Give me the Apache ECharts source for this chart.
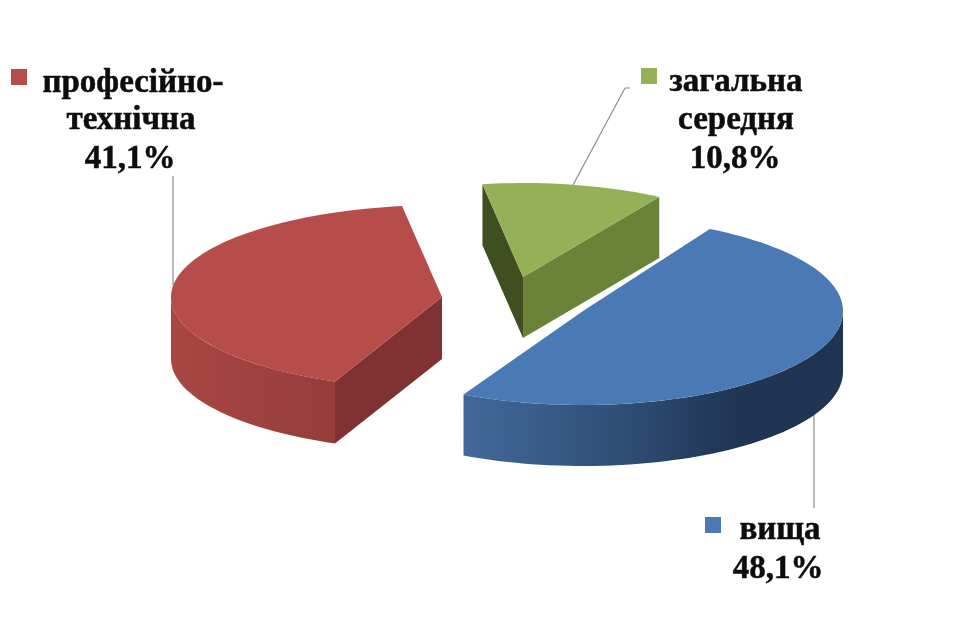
<!DOCTYPE html>
<html><head><meta charset="utf-8">
<style>html,body{margin:0;padding:0;background:#fff}#c{width:980px;height:635px;filter:blur(0.5px)}</style>
<script src="https://cdn.jsdelivr.net/npm/echarts@6/dist/echarts.min.js"></script>
</head><body><div id="c"></div>
<script>
// Data (drawing order: back to front, counter-clockwise from START_ANGLE)
const categories = ['загальна середня', 'професійно-технічна', 'вища'];
const shares = [10.8, 41.1, 48.1];
const shareLabels = ['10,8%', '41,1%', '48,1%'];
const labelLines = [['загальна', 'середня'], ['професійно-', 'технічна'], ['вища']];

// Layout and style
const START_ANGLE = 58;
const sliceCentres = [[523, 277], [442, 297], [583, 311]];
const radiiX = [260, 271, 260];
const radiiY = [94, 92, 94];
const depths = [61, 62, 61];
// small corrections of each slice's edge angles: the original's perspective skews them
const perspectiveNudge = [[0.4, 2.1], [1.6, 1.9], [-2.2, 2.8]];
const topColors = ['#95b158', '#b64d4a', '#4a7ab5'];
const wallStart = ['#6b8239', null, null];
const wallEnd = ['#3f4f20', '#7f3231', null];
const wallStops = [null,
  [[0, '#a84643'], [1, '#953d3b']],
  [[0, '#42699b'], [0.45, '#2e4b72'], [0.72, '#1f3552'], [1, '#1e3450']]];
const labelBlocks = [
  {key: [641, 68], x: [736, 736, 735], y: [82, 120, 159]},
  {key: [11, 69], x: [133, 131, 130], y: [83, 120, 159]},
  {key: [705, 517], x: [780, 778], y: [530, 569]}
];
const leaders = [
  [[573, 185], [625, 88], [630, 88]],
  [[173, 285], [173, 176]],
  [[814, 415], [814, 508]]
];
const total = shares.reduce((a, b) => a + b, 0);

function pt(i, deg, dz) {
  const r = deg * Math.PI / 180, c = sliceCentres[i];
  return [c[0] + radiiX[i] * Math.cos(r), c[1] - radiiY[i] * Math.sin(r) + (dz || 0)];
}
function arc(i, a0, a1, dz) {
  const n = Math.max(2, Math.ceil(Math.abs(a1 - a0) / 2)), out = [];
  for (let k = 0; k <= n; k++) out.push(pt(i, a0 + (a1 - a0) * k / n, dz));
  return out;
}
function wall(i, deg) {
  const c = sliceCentres[i], p = pt(i, deg), d = depths[i];
  return [c, p, [p[0], p[1] + d], [c[0], c[1] + d]];
}

function renderItem(params, api) {
  const i = params.dataIndex;
  let before = 0;
  for (let k = 0; k < i; k++) before += shares[k];
  const base = START_ANGLE + before / total * 360;
  const a0 = base + perspectiveNudge[i][0];
  const a1 = base + api.value(0) / total * 360 + perspectiveNudge[i][1];
  const c = sliceCentres[i], children = [];

  children.push({type: 'polyline', shape: {points: leaders[i]},
    style: {stroke: '#8a8a8a', lineWidth: 1.2, fill: null}});

  if (wallStart[i]) children.push({type: 'polygon', shape: {points: wall(i, a0)}, style: {fill: wallStart[i]}});
  if (wallEnd[i]) children.push({type: 'polygon', shape: {points: wall(i, a1)}, style: {fill: wallEnd[i]}});

  const from = Math.max(a0, 180), to = Math.min(a1, 360);
  if (to > from && wallStops[i]) {
    const upper = arc(i, from, to, 0), lower = arc(i, to, from, depths[i]);
    const xs = upper.map(p => p[0]);
    children.push({type: 'polygon', shape: {points: upper.concat(lower)},
      style: {fill: new echarts.graphic.LinearGradient(Math.min(...xs), 0, Math.max(...xs), 0,
        wallStops[i].map(s => ({offset: s[0], color: s[1]})), true)}});
  }

  children.push({type: 'polygon', shape: {points: [c].concat(arc(i, a0, a1, 0))},
    style: {fill: topColors[i]}});

  const b = labelBlocks[i];
  children.push({type: 'rect', shape: {x: b.key[0], y: b.key[1], width: 16, height: 16},
    style: {fill: topColors[i]}});
  labelLines[i].concat(shareLabels[i]).forEach((t, k) => {
    children.push({type: 'text', x: b.x[k], y: b.y[k], style: {
      text: t, fill: '#0d0d0d', stroke: '#0d0d0d', lineWidth: 0.5,
      align: 'center', verticalAlign: 'middle',
      font: 'bold 33px "Liberation Serif"'}});
  });
  return {type: 'group', children};
}

const chart = echarts.init(document.getElementById('c'), null, {renderer: 'canvas'});
chart.setOption({
  animation: false,
  backgroundColor: '#ffffff',
  series: [{
    type: 'custom',
    coordinateSystem: 'none',
    renderItem,
    data: shares.map((v, i) => ({name: categories[i], value: [v]}))
  }]
});
</script></body></html>
